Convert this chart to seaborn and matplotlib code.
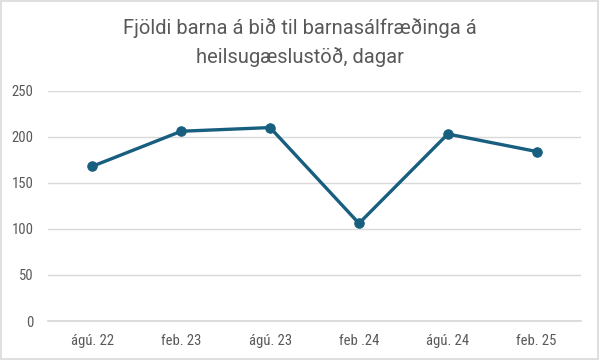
import matplotlib
matplotlib.use("Agg")
import matplotlib.pyplot as plt
import seaborn as sns
import pandas as pd

categories = ["ágú. 22", "feb. 23", "ágú. 23", "feb .24", "ágú. 24", "feb. 25"]
values = [168, 206, 210, 106, 203, 184]
yticks = [0, 50, 100, 150, 200, 250]
title_lines = ["Fjöldi barna á bið til barnasálfræðinga á", "heilsugæslustöð, dagar"]

sns.set_theme(style="white")
plt.rcParams["font.family"] = ["Roboto Condensed", "DejaVu Sans"]

df = pd.DataFrame({"pos": range(len(categories)), "val": values})

fig = plt.figure(figsize=(5.99, 3.6), dpi=100)
ax = fig.add_axes([0.0801, 0.1083, 0.890, 0.6397])
color = "#175e7f"
sns.lineplot(data=df, x="pos", y="val", ax=ax, color=color, linewidth=2.4,
             marker="o", markersize=6.8, markeredgecolor=color, markerfacecolor=color)
ax.set_xlim(-0.5, len(categories) - 0.5)
ax.set_ylim(0, 250)
ax.set_yticks(yticks)
ax.set_xticks(range(len(categories)))
ax.set_xticklabels(categories)
ax.yaxis.grid(True, color="#d9d9d9", linewidth=1)
ax.set_axisbelow(True)
for s in ["top", "right", "left"]:
    ax.spines[s].set_visible(False)
ax.spines["bottom"].set_color("#d9d9d9")
ax.tick_params(axis="both", length=0, labelsize=10.5, colors="#595959")
ax.tick_params(axis="x", pad=9)
ax.tick_params(axis="y", pad=10.5)
ax.set_xlabel("")
ax.set_ylabel("")

fig.text(0.5, 1 - 34 / 360, title_lines[0], ha="center", va="baseline",
         fontsize=14.5, color="#595959", family=["Roboto", "DejaVu Sans"])
fig.text(0.5, 1 - 63 / 360, title_lines[1], ha="center", va="baseline",
         fontsize=14.5, color="#595959", family=["Roboto", "DejaVu Sans"])

border = plt.Rectangle((0.001, 0.002), 0.997, 0.995, transform=fig.transFigure,
                       fill=False, edgecolor="#d9d9d9", linewidth=1.2)
fig.patches.append(border)

fig.savefig("out.png", dpi=100)
